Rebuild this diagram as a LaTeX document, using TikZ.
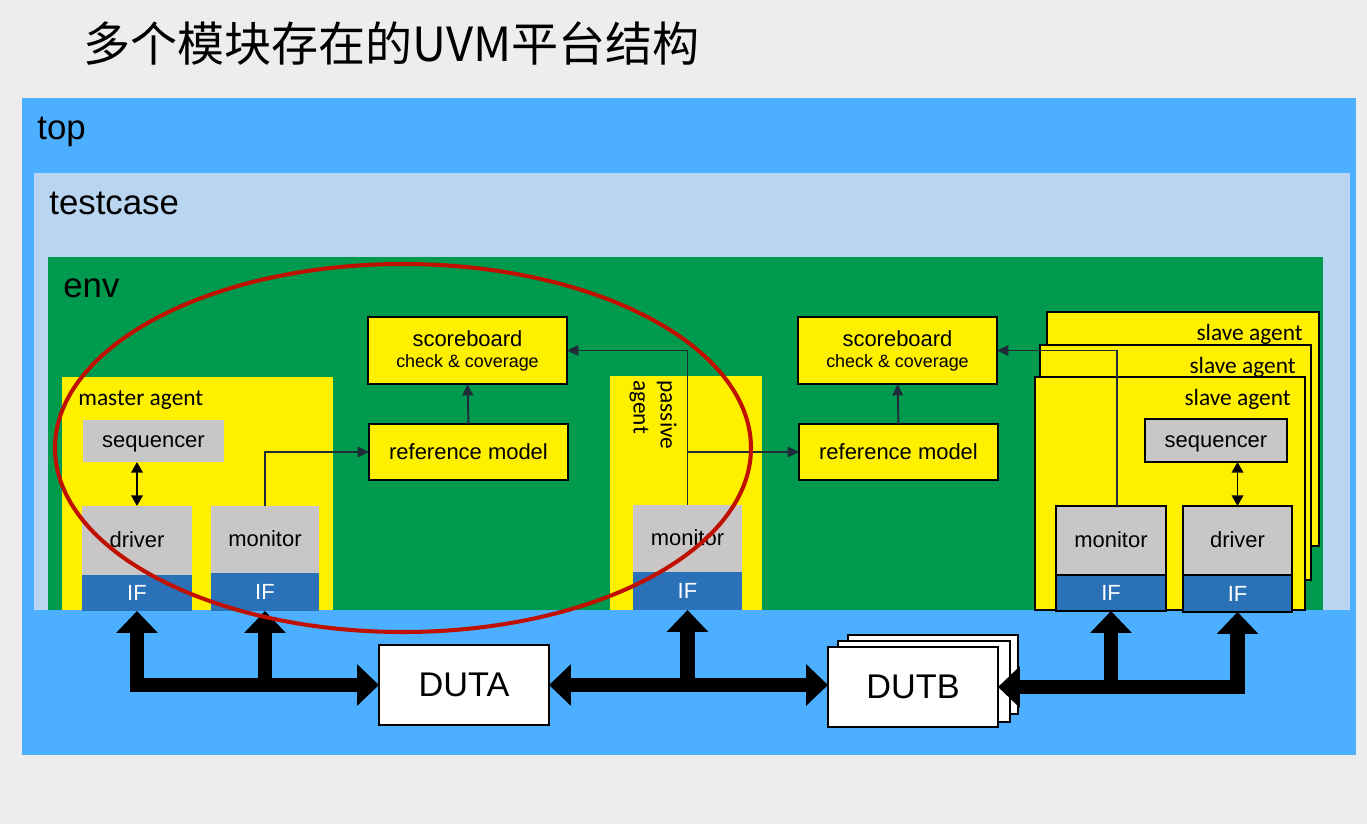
\documentclass[tikz,border=0pt]{standalone}
\usepackage{fontspec}
\setmainfont{Liberation Sans}
\newfontfamily\calfont{Carlito}
\newfontfamily\cjkfont{Noto Sans CJK SC}
\usetikzlibrary{fit,arrows.meta}
\definecolor{slidebg}{RGB}{237,237,240}
\definecolor{topblue}{RGB}{77,175,255}
\definecolor{tcblue}{RGB}{185,213,240}
\definecolor{envgreen}{RGB}{0,154,78}
\definecolor{agentyellow}{RGB}{255,240,0}
\definecolor{partgray}{RGB}{200,198,198}
\definecolor{ifblue}{RGB}{42,113,184}
\definecolor{linkcol}{RGB}{30,43,56}
\definecolor{ringred}{RGB}{192,16,0}

\begin{document}
\begin{tikzpicture}[
  x=0.02cm, y=-0.02cm,
  frame/.style={
    inner sep=0pt, outer sep=0pt,
  },
  box size/.style 2 args={
    minimum width=#1*0.02cm, minimum height=#2*0.02cm,
  },
  layer label/.style={
    inner sep=0pt, anchor=base west, font=\fontsize{19.8}{22}\selectfont,
  },
  agent label/.style={
    inner sep=0pt, font=\calfont\fontsize{13.3}{15.3}\selectfont,
  },
  agent/.style={
    frame, fill=agentyellow,
  },
  part/.style={
    frame, fill=partgray, font=\fontsize{12.5}{14}\selectfont,
    text height=9pt, text depth=1.2pt,
  },
  if box/.style={
    frame, fill=ifblue, text=white, font=\fontsize{12.5}{14}\selectfont,
  },
  outlined/.style={
    draw=black, line width=0.9pt,
  },
  model/.style={
    frame, outlined, fill=agentyellow,
    align=center, font=\fontsize{12.5}{14}\selectfont,
  },
  dut/.style={
    frame, outlined, fill=white, box size={170}{80},
    font=\fontsize{19.5}{22}\selectfont,
  },
  link/.style={
    draw=linkcol, line width=1.1pt, -{Triangle[length=6.5pt,width=6pt]},
  },
  bilink/.style={
    draw=black, line width=1.1pt,
    {Triangle[length=6pt,width=6.5pt]}-{Triangle[length=6pt,width=6.5pt]},
  },
  bus/.style={
    draw=black, line width=8.3pt, line join=miter,
    -{Triangle[length=12.5pt,width=23pt]},
  },
  bibus/.style={
    bus, {Triangle[length=12.5pt,width=23pt]}-{Triangle[length=12.5pt,width=23pt]},
  }
  ]
  \fill[slidebg] (0,0) rectangle (1367,824);
  \useasboundingbox (0,0) rectangle (1367,824);

  \node[frame, anchor=west, font=\cjkfont\fontsize{26.8}{30}\selectfont] (title) at (83,44) {多个模块存在的UVM平台结构};

  \node[frame, fill=topblue, fit={(22,98) (1356,755)}] (top) {};
  \node[frame, fill=tcblue, fit={(34,173) (1350,610)}] (testcase) {};
  \node[frame, fill=envgreen, fit={(48,257) (1323,610)}] (env) {};
  \node[layer label] (toplabel) at (37,140) {top};
  \node[layer label] (tclabel) at (49,215) {testcase};
  \node[layer label] (envlabel) at (63,298) {env};

  \node[agent, fit={(62,377) (333,610)}] (master) {};
  \node[agent label, anchor=base west] (masterlabel) at (78,406) {master agent};
  \node[part, box size={141}{42}] (seqM) at (153.5,441) {sequencer};
  \node[part, box size={110}{69}] (drvM) at (137,540.5) {driver};
  \node[if box, box size={110}{36}] (ifdM) at (137,593) {IF};
  \node[part, box size={108}{67}] (monM) at (265,539.5) {monitor};
  \node[if box, box size={108}{38}] (ifmM) at (265,592) {IF};

  \node[model, box size={199}{67}] (sbL) at (467.5,350.5) {scoreboard\\[-2pt]{\fontsize{10.2}{12}\selectfont check \& coverage}};
  \node[model, box size={199}{56}] (rmL) at (468.5,452) {reference model};

  \node[agent, fit={(610,376) (762,610)}] (passive) {};
  \node[agent label, rotate=-90, anchor=north west, align=left] (passivelabel) at (677,380) {passive\\agent};
  \node[part, box size={109}{67}] (monP) at (687.5,538.5) {monitor};
  \node[if box, box size={109}{38}] (ifP) at (687.5,591) {IF};

  \node[model, box size={199}{67}] (sbR) at (897.5,350.5) {scoreboard\\[-2pt]{\fontsize{10.2}{12}\selectfont check \& coverage}};
  \node[model, box size={199}{56}] (rmR) at (898.5,452) {reference model};

  \node[agent, outlined, fit={(1047,312) (1319,546)}] (slaveC) {};
  \node[agent label, anchor=base east] (slaveClabel) at (1303,341) {slave agent};
  \node[agent, outlined, fit={(1040,345) (1311,580)}] (slaveB) {};
  \node[agent label, anchor=base east] (slaveBlabel) at (1296,374) {slave agent};
  \node[agent, outlined, fit={(1035,377) (1305,610)}] (slaveA) {};
  \node[agent label, anchor=base east] (slaveAlabel) at (1291,406) {slave agent};
  \node[part, outlined, box size={142}{43}] (seqS) at (1216,440.5) {sequencer};
  \node[part, outlined, box size={110}{69}] (monS) at (1111,540.5) {monitor};
  \node[if box, outlined, box size={110}{36}] (ifmS) at (1111,593) {IF};
  \node[part, outlined, box size={109}{69}] (drvS) at (1237.5,540.5) {driver};
  \node[if box, outlined, box size={109}{37}] (ifdS) at (1237.5,593.5) {IF};

  \draw[bilink] (drvM.north) -- (drvM.north |- seqM.south);
  \draw[bilink] (drvS.north) -- (drvS.north |- seqS.south);
  \draw[link] (monM.north) |- (rmL.west);
  \draw[link] (rmL.north) -- (sbL.south);
  \draw[link] (monP.north) |- (sbL.east);
  \draw[link] (monP.north |- rmR.west) -- (rmR.west);
  \draw[link] (rmR.north) -- (sbR.south);
  \draw[link] ([xshift=6*0.02cm]monS.north) |- (sbR.east);

  \node[dut] (duta) at (464,685) {DUTA};
  \node[dut, box size={170}{79}] (dutbC) at (933,674.5) {};
  \node[dut, box size={172}{81}] (dutbB) at (924,681.5) {};
  \node[dut] (dutb) at (913,687) {DUTB};

  \draw[bibus] (ifdM.south) |- (duta.west);
  \draw[bus] (ifmM.south |- duta.west) -- (ifmM.south);
  \draw[bibus] (duta.east) -- (duta.east -| dutb.west);
  \draw[bus] (ifP.south |- duta.east) -- (ifP.south);
  \draw[bibus] (ifdS.south) |- (dutb.east);
  \draw[bus] (ifmS.south |- dutb.east) -- (ifmS.south);

  \draw[ringred, line width=2.3pt] (403,448) ellipse [x radius=348, y radius=184];
\end{tikzpicture}
\end{document}
